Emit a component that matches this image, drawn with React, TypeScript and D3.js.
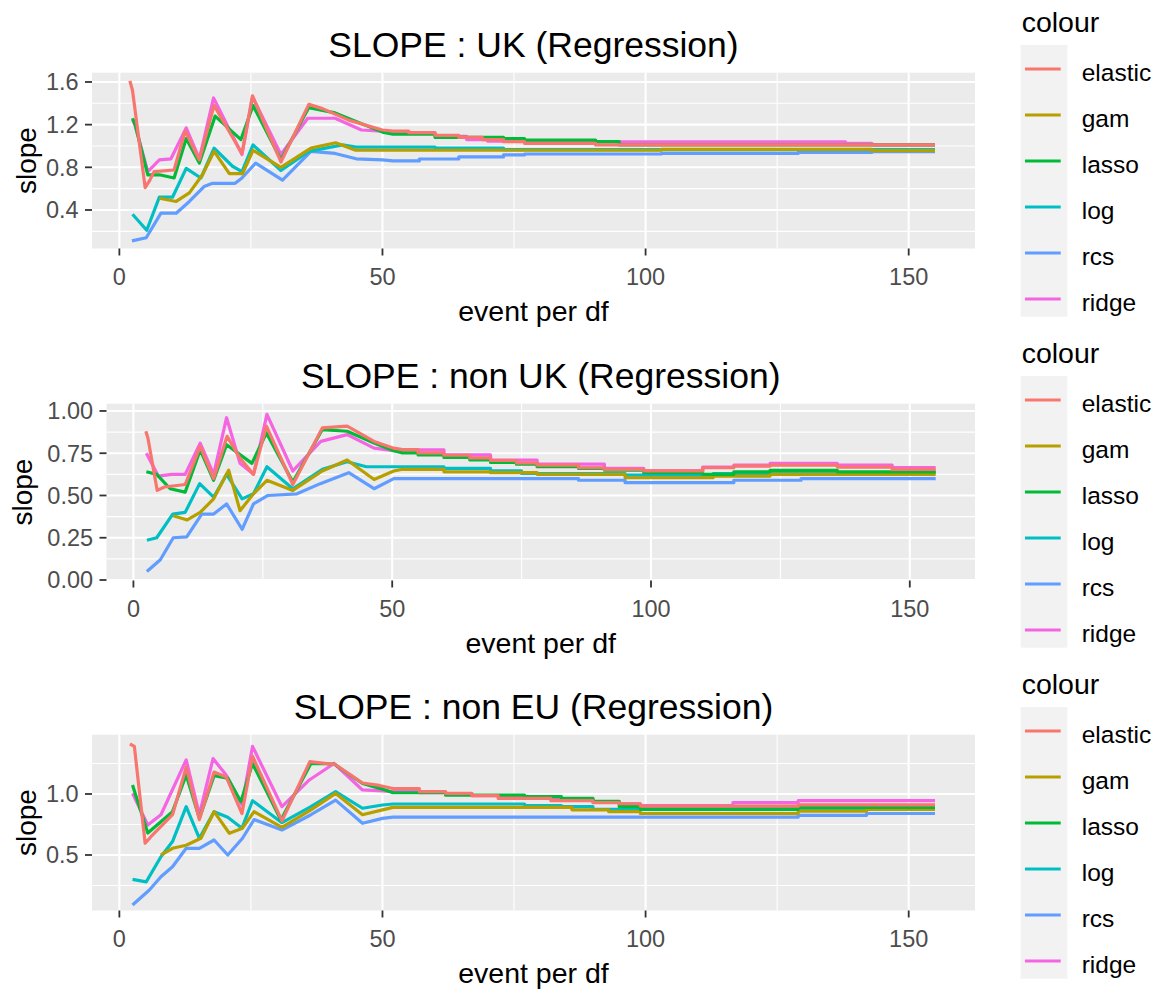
import React from 'react';
import * as d3 from 'd3';

type P = [number, number];

const METHODS = ['elastic', 'gam', 'lasso', 'log', 'rcs', 'ridge'];
const COLORS = ['#F8766D', '#B79F00', '#00BA38', '#00BFC4', '#619CFF', '#F564E3'];
const DRAW_ORDER = ['rcs', 'log', 'gam', 'ridge', 'lasso', 'elastic'];

const X_TICKS = [0, 50, 100, 150];
const X_MINOR = [25, 75, 125];
const STEP_FROM = 52;

// ---------- Panel 1 : UK ----------
const UK_elastic: P[] = [[2,1.61],[2.5,1.52],[4.9,0.61],[5.8,0.68],[6.6,0.76],[10.4,0.775],[12.5,1.14],[15.2,0.87],[18,1.38],[23.3,0.93],[25.3,1.47],[30.7,0.85],[36,1.39],[38.6,1.35],[43.7,1.24],[50,1.15],
  [52,1.14],[55,1.125],[60,1.10],[64.5,1.08],[69,1.06],[73,1.04],[77,1.025],[90.5,1.01],[155,1.01]];
const UK_gam: P[] = [[7.6,0.51],[10.8,0.48],[13.3,0.56],[15.8,0.73],[18,0.95],[20.9,0.74],[23.4,0.74],[25.4,0.96],[30.7,0.80],[36.4,0.98],[41.1,1.03],[44.9,0.96],[50,0.96],
  [52,0.96],[103,0.968],[143,0.956],[155,0.956]];
const UK_lasso: P[] = [[2.5,1.26],[3,1.2],[5.4,0.73],[7.6,0.73],[10.4,0.70],[12.7,1.07],[15.2,0.84],[18.2,1.28],[23.1,1.06],[25.4,1.38],[30.7,0.87],[36,1.36],[41,1.31],[50,1.13],
  [52,1.11],[60,1.08],[73,1.07],[77,1.055],[90.5,1.04],[95,1.01],[155,1.01]];
const UK_log: P[] = [[2.5,0.36],[5.2,0.21],[7.6,0.52],[10.1,0.52],[12.7,0.79],[15.5,0.70],[18,0.98],[21.5,0.81],[23.3,0.76],[25.4,1.01],[30.7,0.77],[36,0.95],[42.4,1.01],[45,0.99],[50,0.99],
  [52,0.99],[60,0.98],[73,0.965],[155,0.965]];
const UK_rcs: P[] = [[2.4,0.11],[5.1,0.14],[7.9,0.37],[10.8,0.37],[13.3,0.48],[16.1,0.62],[17.7,0.65],[22,0.65],[23.3,0.70],[25.9,0.84],[31,0.68],[36.4,0.95],[41,0.93],[45,0.88],[50,0.87],
  [52,0.86],[57,0.878],[64.5,0.897],[73,0.916],[77,0.925],[103,0.93],[129,0.94],[143,0.947],[155,0.947]];
const UK_ridge: P[] = [[2.5,1.25],[3,1.19],[5.4,0.76],[7.6,0.87],[9.8,0.88],[12.7,1.17],[15.2,0.88],[17.9,1.45],[23.3,0.92],[25.3,1.46],[30.7,0.92],[35.8,1.26],[41,1.26],[46,1.15],[50,1.14],
  [52,1.12],[60,1.09],[66,1.06],[70,1.045],[90,1.038],[138,1.025],[143,1.01],[155,1.01]];

// ---------- Panel 2 : non UK ----------
const NUK_elastic: P[] = [[2.4,0.88],[2.8,0.84],[4.6,0.53],[6,0.55],[10,0.565],[12.9,0.79],[15.5,0.60],[18.1,0.85],[20.6,0.72],[23.2,0.625],[25.7,0.91],[30.8,0.565],[36.5,0.90],[41.3,0.91],[46.5,0.82],[50.3,0.78],
  [52,0.771],[55,0.752],[60,0.738],[65,0.723],[69,0.707],[74,0.693],[78,0.68],[86,0.664],[91,0.654],[98.6,0.645],[110,0.664],[116,0.674],[123,0.68],[136,0.668],[146.6,0.654],[155,0.654]];
const NUK_gam: P[] = [[7.7,0.38],[10.4,0.355],[12.9,0.40],[15.5,0.48],[18.4,0.65],[20.6,0.41],[23.2,0.51],[25.8,0.59],[30.8,0.53],[36.5,0.645],[41.3,0.71],[46.5,0.595],[50.3,0.645],
  [52,0.655],[60,0.64],[69,0.635],[78,0.625],[95,0.605],[112,0.615],[123,0.625],[155,0.625]];
const NUK_lasso: P[] = [[2.5,0.64],[4.5,0.625],[7.1,0.54],[10,0.52],[12.9,0.77],[15.5,0.59],[18,0.80],[22.9,0.69],[25.7,0.87],[30.8,0.58],[36.5,0.89],[41.3,0.88],[46.5,0.81],[50.3,0.765],
  [52,0.752],[55,0.74],[60,0.725],[65,0.71],[69,0.695],[74,0.685],[78,0.67],[86,0.66],[91,0.65],[98.6,0.635],[110,0.625],[116,0.64],[123,0.648],[136,0.64],[155,0.64]];
const NUK_log: P[] = [[2.6,0.235],[4.5,0.25],[7.6,0.39],[10,0.40],[12.8,0.57],[15.5,0.49],[18,0.625],[21,0.48],[23.2,0.51],[25.8,0.67],[30.8,0.54],[36.5,0.655],[41.3,0.70],[45,0.67],[50,0.67],
  [52,0.67],[60,0.66],[69,0.645],[75,0.63],[95,0.62],[112,0.63],[123,0.635],[155,0.635]];
const NUK_rcs: P[] = [[2.6,0.05],[5.2,0.12],[7.7,0.25],[10.3,0.255],[13.2,0.39],[15.5,0.39],[18,0.45],[21,0.30],[23.2,0.45],[26,0.50],[31.6,0.51],[36.1,0.57],[41.6,0.635],[46.5,0.54],[50.3,0.60],
  [52,0.60],[86,0.59],[95,0.576],[116,0.59],[129,0.60],[155,0.60]];
const NUK_ridge: P[] = [[2.5,0.75],[4.8,0.615],[7.4,0.625],[10,0.625],[12.9,0.81],[15.5,0.625],[18,0.96],[20.6,0.69],[23.2,0.625],[25.8,0.98],[30.8,0.645],[36.2,0.82],[41.3,0.86],[46.5,0.78],[50.3,0.765],
  [52,0.77],[60,0.74],[69,0.71],[78,0.685],[91,0.66],[98.6,0.645],[110,0.668],[116,0.68],[123,0.69],[136,0.68],[146.6,0.665],[155,0.665]];

// ---------- Panel 3 : non EU ----------
const NEU_elastic: P[] = [[2,1.41],[2.85,1.39],[4.9,0.596],[6,0.65],[10.1,0.83],[12.7,1.22],[15.2,0.79],[18,1.18],[20.3,1.14],[23.3,0.84],[25.3,1.31],[30.9,0.78],[36.2,1.265],[41.1,1.24],[46.2,1.09],[49.4,1.07],
  [52,1.045],[57,1.02],[62,1.005],[67,0.986],[72,0.964],[82,0.945],[90,0.93],[95,0.92],[99,0.90],[129,0.91],[155,0.91]];
const NEU_gam: P[] = [[7.9,0.50],[10.1,0.555],[12.7,0.58],[15.5,0.637],[18,0.855],[20.9,0.678],[23.4,0.72],[25.6,0.855],[30.9,0.727],[36.4,0.87],[41.1,1.005],[46.2,0.83],[50,0.87],
  [52,0.89],[86,0.87],[93,0.855],[99,0.84],[129,0.86],[142,0.874],[155,0.874]];
const NEU_lasso: P[] = [[2.5,1.074],[5.4,0.68],[10.1,0.855],[12.7,1.156],[15.2,0.80],[18,1.15],[20.6,1.13],[23.1,0.937],[25.3,1.25],[30.7,0.787],[36.4,1.25],[40.8,1.246],[46.2,1.087],[50,1.04],
  [52,1.01],[62,0.99],[77,0.978],[84,0.964],[90,0.94],[95,0.896],[99,0.874],[129,0.89],[155,0.89]];
const NEU_log: P[] = [[2.5,0.30],[5.1,0.28],[7.9,0.486],[10.1,0.61],[12.7,0.896],[15.2,0.637],[18,0.855],[20.6,0.81],[23.3,0.72],[25.3,0.945],[30.9,0.765],[36.4,0.896],[41.1,1.02],[46.2,0.883],[50,0.91],
  [52,0.918],[77,0.905],[84,0.896],[90,0.874],[97,0.88],[155,0.88]];
const NEU_rcs: P[] = [[2.5,0.09],[5.7,0.213],[7.9,0.322],[10.1,0.404],[12.7,0.555],[15.2,0.555],[18,0.623],[20.6,0.50],[23.4,0.637],[25.6,0.79],[30.9,0.705],[36.4,0.83],[41.1,0.95],[46.2,0.76],[50,0.80],
  [52,0.81],[129,0.825],[142,0.84],[155,0.84]];
const NEU_ridge: P[] = [[2.5,1.005],[5.4,0.746],[7.9,0.83],[12.7,1.28],[15.2,0.83],[17.8,1.29],[20.3,1.156],[23.3,0.91],[25.3,1.39],[30.9,0.896],[36.1,1.115],[40.8,1.25],[46.2,1.033],[50,1.025],
  [52,1.02],[57,1.01],[62,1.0],[67,0.986],[72,0.975],[82,0.96],[90,0.935],[95,0.92],[99,0.905],[116.6,0.93],[129,0.945],[155,0.945]];

const UK_SERIES: Record<string, P[]> = { elastic: UK_elastic, gam: UK_gam, lasso: UK_lasso, log: UK_log, rcs: UK_rcs, ridge: UK_ridge };
const NUK_SERIES: Record<string, P[]> = { elastic: NUK_elastic, gam: NUK_gam, lasso: NUK_lasso, log: NUK_log, rcs: NUK_rcs, ridge: NUK_ridge };
const NEU_SERIES: Record<string, P[]> = { elastic: NEU_elastic, gam: NEU_gam, lasso: NEU_lasso, log: NEU_log, rcs: NEU_rcs, ridge: NEU_ridge };

const UK_Y_TICKS = [0.4, 0.8, 1.2, 1.6];
const UK_Y_LABELS = ['0.4', '0.8', '1.2', '1.6'];
const UK_Y_MINOR = [0.2, 0.6, 1.0, 1.4];
const NUK_Y_TICKS = [0, 0.25, 0.5, 0.75, 1.0];
const NUK_Y_LABELS = ['0.00', '0.25', '0.50', '0.75', '1.00'];
const NUK_Y_MINOR = [0.125, 0.375, 0.625, 0.875];
const NEU_Y_TICKS = [0.5, 1.0];
const NEU_Y_LABELS = ['0.5', '1.0'];
const NEU_Y_MINOR = [0.25, 0.75, 1.25];

const FONT = '"Liberation Sans", Arial, sans-serif';

interface PanelCfg {
  title: string;
  series: Record<string, P[]>;
  yTicks: number[];
  yLabels: string[];
  yMinor: number[];
  yDomain: [number, number];
  left: number; right: number; top: number; bottom: number;
  titleY: number;
  yTitleX: number;
  legendOffset: number;
}

const PANELS: PanelCfg[] = [
  { title: 'SLOPE : UK (Regression)', series: UK_SERIES, yTicks: UK_Y_TICKS, yLabels: UK_Y_LABELS, yMinor: UK_Y_MINOR,
    yDomain: [0.039, 1.687], left: 92, right: 975, top: 72.7, bottom: 248.5, titleY: 57.3, yTitleX: 36, legendOffset: 0 },
  { title: 'SLOPE : non UK (Regression)', series: NUK_SERIES, yTicks: NUK_Y_TICKS, yLabels: NUK_Y_LABELS, yMinor: NUK_Y_MINOR,
    yDomain: [-0.003, 1.043], left: 106.5, right: 975, top: 403.7, bottom: 580.5, titleY: 388.3, yTitleX: 31.5, legendOffset: 331 },
  { title: 'SLOPE : non EU (Regression)', series: NEU_SERIES, yTicks: NEU_Y_TICKS, yLabels: NEU_Y_LABELS, yMinor: NEU_Y_MINOR,
    yDomain: [0.045, 1.486], left: 92, right: 975, top: 734.7, bottom: 910.5, titleY: 719.3, yTitleX: 36, legendOffset: 662 },
];

const X_DOMAIN: [number, number] = [-5.2, 162.6];

function expand(pts: P[]): P[] {
  const early = pts.filter((p) => p[0] < STEP_FROM);
  const steps = pts.filter((p) => p[0] >= STEP_FROM);
  const out: P[] = [...early];
  steps.forEach((p, i) => {
    out.push(p);
    if (i + 1 < steps.length) out.push([steps[i + 1][0], p[1]]);
  });
  return out;
}

function Panel({ cfg }: { cfg: PanelCfg }) {
  const x = d3.scaleLinear().domain(X_DOMAIN).range([cfg.left, cfg.right]);
  const y = d3.scaleLinear().domain(cfg.yDomain).range([cfg.bottom, cfg.top]);
  const line = d3.line<P>().x((d) => x(d[0])).y((d) => y(d[1]));
  const cx = (cfg.left + cfg.right) / 2;
  const cy = (cfg.top + cfg.bottom) / 2;
  return (
    <g>
      <rect x={cfg.left} y={cfg.top} width={cfg.right - cfg.left} height={cfg.bottom - cfg.top} fill="#EBEBEB" />
      {cfg.yMinor.map((v) => (
        <line key={'ym' + v} x1={cfg.left} x2={cfg.right} y1={y(v)} y2={y(v)} stroke="#fff" strokeWidth={1.1} />
      ))}
      {X_MINOR.map((v) => (
        <line key={'xm' + v} x1={x(v)} x2={x(v)} y1={cfg.top} y2={cfg.bottom} stroke="#fff" strokeWidth={1.1} />
      ))}
      {cfg.yTicks.map((v) => (
        <line key={'yM' + v} x1={cfg.left} x2={cfg.right} y1={y(v)} y2={y(v)} stroke="#fff" strokeWidth={2.1} />
      ))}
      {X_TICKS.map((v) => (
        <line key={'xM' + v} x1={x(v)} x2={x(v)} y1={cfg.top} y2={cfg.bottom} stroke="#fff" strokeWidth={2.1} />
      ))}
      {DRAW_ORDER.map((m) => (
        <path key={m} d={line(expand(cfg.series[m])) || ''} fill="none" stroke={COLORS[METHODS.indexOf(m)]}
          strokeWidth={3.2} strokeLinejoin="round" strokeLinecap="butt" />
      ))}
      {cfg.yTicks.map((v, i) => (
        <g key={'yt' + v}>
          <line x1={cfg.left - 7} x2={cfg.left} y1={y(v)} y2={y(v)} stroke="#333" strokeWidth={1.8} />
          <text x={cfg.left - 13.4} y={y(v)} dy="0.36em" textAnchor="end" fontSize={23.5} fill="#4D4D4D" fontFamily={FONT}>
            {cfg.yLabels[i]}
          </text>
        </g>
      ))}
      {X_TICKS.map((v) => (
        <g key={'xt' + v}>
          <line x1={x(v)} x2={x(v)} y1={cfg.bottom} y2={cfg.bottom + 7} stroke="#333" strokeWidth={1.8} />
          <text x={x(v)} y={cfg.bottom + 36.5} textAnchor="middle" fontSize={23.5} fill="#4D4D4D" fontFamily={FONT}>
            {v}
          </text>
        </g>
      ))}
      <text x={cx} y={cfg.titleY} textAnchor="middle" fontSize={35.5} fill="#000" fontFamily={FONT}>{cfg.title}</text>
      <text x={cx} y={cfg.bottom + 72.5} textAnchor="middle" fontSize={28.5} fill="#000" fontFamily={FONT}>event per df</text>
      <text transform={`translate(${cfg.yTitleX},${cy}) rotate(-90)`} textAnchor="middle" fontSize={28} fill="#000" fontFamily={FONT}>slope</text>
      <Legend offset={cfg.legendOffset} />
    </g>
  );
}

function Legend({ offset }: { offset: number }) {
  const keyTop = 45 + offset;
  const step = 46;
  return (
    <g>
      <text x={1021.7} y={31.7 + offset} fontSize={28.5} fill="#000" fontFamily={FONT}>colour</text>
      <rect x={1020.7} y={keyTop} width={46.6} height={271.7} fill="#F2F2F2" />
      {METHODS.map((m, i) => {
        const ky = 69 + offset + i * step;
        return (
          <g key={m}>
            <line x1={1025} x2={1060.7} y1={ky} y2={ky} stroke={COLORS[i]} strokeWidth={3.2} />
            <text x={1081.7} y={ky + 11.5} fontSize={24.5} fill="#000" fontFamily={FONT}>{m}</text>
          </g>
        );
      })}
    </g>
  );
}

export default function App() {
  return (
    <svg width={1159} height={993} style={{ position: 'absolute', left: 0, top: 0, background: '#fff' }}>
      <rect x={0} y={0} width={1159} height={993} fill="#fff" />
      {PANELS.map((p) => (
        <Panel key={p.title} cfg={p} />
      ))}
    </svg>
  );
}
